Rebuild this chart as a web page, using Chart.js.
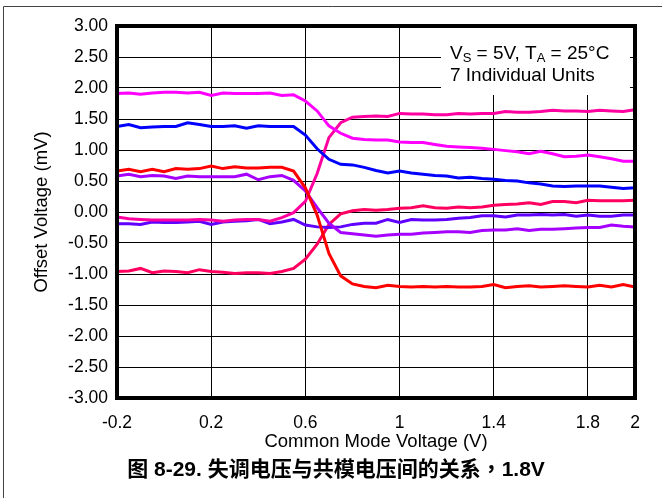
<!DOCTYPE html>
<html>
<head>
<meta charset="utf-8">
<script src="https://cdn.jsdelivr.net/npm/chart.js@4.4.1/dist/chart.umd.min.js"></script>
<style>
  html, body { margin: 0; padding: 0; background: #fff; }
  canvas { display: block; }
</style>
</head>
<body>
<canvas id="chart" width="662" height="498"></canvas>
<script>
// common mode voltage (V)
const voltage = [-0.2,-0.15,-0.1,-0.05,0,0.05,0.1,0.15,0.2,0.25,0.3,0.35,0.4,0.45,0.5,0.55,0.6,0.65,0.7,0.75,0.8,0.85,0.9,0.95,1.0,1.05,1.1,1.15,1.2,1.25,1.3,1.35,1.4,1.45,1.5,1.55,1.6,1.65,1.7,1.75,1.8,1.85,1.9,1.95,2.0];

// offset voltage (mV) for the 7 units
const unit1 = [1.91,1.92,1.90,1.92,1.93,1.93,1.92,1.93,1.88,1.92,1.91,1.91,1.91,1.92,1.88,1.89,1.79,1.63,1.39,1.27,1.19,1.17,1.16,1.16,1.13,1.12,1.12,1.09,1.06,1.05,1.04,1.03,1.01,0.99,0.97,0.94,0.98,0.94,0.89,0.90,0.92,0.89,0.86,0.82,0.82];
const unit2 = [1.38,1.41,1.36,1.37,1.38,1.38,1.44,1.41,1.38,1.38,1.39,1.35,1.39,1.38,1.38,1.38,1.24,1.02,0.85,0.77,0.76,0.72,0.67,0.63,0.66,0.63,0.61,0.59,0.58,0.55,0.56,0.54,0.53,0.51,0.50,0.47,0.45,0.42,0.41,0.42,0.42,0.42,0.40,0.38,0.39];
const unit3 = [0.66,0.69,0.65,0.69,0.65,0.70,0.69,0.70,0.74,0.70,0.73,0.71,0.71,0.72,0.72,0.66,0.39,-0.05,-0.67,-1.03,-1.16,-1.20,-1.22,-1.18,-1.20,-1.21,-1.20,-1.21,-1.20,-1.21,-1.21,-1.20,-1.17,-1.22,-1.20,-1.19,-1.21,-1.20,-1.19,-1.20,-1.21,-1.18,-1.21,-1.17,-1.21];
const unit4 = [0.58,0.61,0.57,0.59,0.58,0.54,0.58,0.57,0.57,0.57,0.57,0.61,0.52,0.57,0.59,0.51,0.34,0.07,-0.18,-0.33,-0.35,-0.37,-0.39,-0.37,-0.36,-0.36,-0.34,-0.33,-0.32,-0.32,-0.33,-0.30,-0.29,-0.29,-0.27,-0.30,-0.28,-0.28,-0.27,-0.26,-0.25,-0.25,-0.21,-0.23,-0.24];
const unit5 = [-0.08,-0.11,-0.12,-0.13,-0.13,-0.13,-0.13,-0.12,-0.13,-0.15,-0.13,-0.12,-0.12,-0.15,-0.09,-0.01,0.17,0.62,1.20,1.44,1.53,1.54,1.55,1.54,1.59,1.58,1.58,1.57,1.57,1.59,1.58,1.59,1.59,1.62,1.61,1.61,1.62,1.64,1.63,1.63,1.62,1.64,1.63,1.62,1.65];
const unit6 = [-0.19,-0.19,-0.20,-0.16,-0.17,-0.17,-0.16,-0.15,-0.20,-0.16,-0.15,-0.14,-0.12,-0.19,-0.16,-0.12,-0.21,-0.24,-0.25,-0.24,-0.20,-0.18,-0.18,-0.12,-0.17,-0.12,-0.13,-0.13,-0.12,-0.10,-0.09,-0.06,-0.06,-0.08,-0.05,-0.05,-0.04,-0.05,-0.04,-0.07,-0.05,-0.07,-0.07,-0.05,-0.05];
const unit7 = [-0.96,-0.95,-0.91,-0.98,-0.95,-0.96,-0.98,-0.93,-0.96,-0.97,-0.99,-0.98,-0.98,-0.99,-0.96,-0.91,-0.76,-0.52,-0.20,-0.03,0.02,0.04,0.03,0.04,0.06,0.07,0.10,0.07,0.06,0.08,0.07,0.08,0.11,0.12,0.13,0.15,0.12,0.17,0.17,0.15,0.19,0.18,0.18,0.18,0.19];

const units = [unit1, unit2, unit3, unit4, unit5, unit6, unit7];
const unitColors = ['#FF00FF','#0000FF','#FF0000','#A600FF','#FF00A0','#6000FF','#FF0060'];

const xTicks = [-0.2, 0.2, 0.6, 1, 1.4, 1.8, 2];
const yMin = -3, yMax = 3, yStep = 0.5;

const caption = '图 8-29. 失调电压与共模电压间的关系，1.8V';

const FONT = "'Liberation Sans', Arial, sans-serif";

// outer frame, plot border, condition box and figure caption
const decor = {
  id: 'decor',
  beforeDraw(chart) {
    const ctx = chart.ctx;
    ctx.save();
    ctx.strokeStyle = '#444';
    ctx.lineWidth = 1;
    ctx.beginPath();
    ctx.moveTo(3.5, 498);
    ctx.lineTo(3.5, 6.5);
    ctx.lineTo(662, 6.5);
    ctx.stroke();
    ctx.restore();
  },
  beforeDatasetsDraw(chart) {
    const ctx = chart.ctx;
    const a = chart.chartArea;
    ctx.save();
    ctx.fillStyle = '#fff';
    ctx.fillRect(441, a.top, 189, 69);
    ctx.fillStyle = '#000';
    ctx.textBaseline = 'alphabetic';
    let x = 450;
    const big = '19px ' + FONT, small = '13px ' + FONT;
    const parts = [['V', big, 0], ['S', small, 3.5], [' = 5V, T', big, 0], ['A', small, 3.5], [' = 25°C', big, 0]];
    parts.forEach(p => {
      ctx.font = p[1];
      ctx.fillText(p[0], x, 58.5 + p[2]);
      x += ctx.measureText(p[0]).width;
    });
    ctx.font = big;
    ctx.fillText('7 Individual Units', 450, 80.5);
    ctx.restore();
  },
  afterDatasetsDraw(chart) {
    const ctx = chart.ctx;
    const a = chart.chartArea;
    ctx.save();
    ctx.strokeStyle = '#000';
    ctx.lineWidth = 4;
    ctx.strokeRect(a.left, a.top, a.right - a.left, a.bottom - a.top);
    ctx.restore();
  },
  afterDraw(chart) {
    const ctx = chart.ctx;
    ctx.save();
    ctx.fillStyle = '#000';
    ctx.font = "bold 21px 'Liberation Sans', 'Noto Sans CJK TC', sans-serif";
    ctx.textAlign = 'center';
    ctx.textBaseline = 'middle';
    ctx.fillText(caption, 336, 470);
    ctx.restore();
  }
};

new Chart(document.getElementById('chart'), {
  type: 'line',
  data: {
    datasets: units.map((u, k) => ({
      label: 'Unit ' + (k + 1),
      data: voltage.map((v, i) => ({x: v, y: u[i]})),
      borderColor: unitColors[k],
      backgroundColor: unitColors[k],
      borderWidth: 3,
      pointRadius: 0,
      tension: 0,
      fill: false
    }))
  },
  options: {
    responsive: false,
    animation: false,
    layout: { padding: { left: 0, top: 26, right: 27, bottom: 0 } },
    plugins: {
      legend: { display: false },
      tooltip: { enabled: false }
    },
    scales: {
      x: {
        type: 'linear',
        min: -0.2,
        max: 2,
        afterBuildTicks: s => { s.ticks = xTicks.map(v => ({ value: v })); },
        afterFit: s => { s.height = 100; },
        ticks: {
          color: '#000',
          padding: 15,
          maxRotation: 0,
          font: { family: FONT, size: 17.5 },
          callback: v => String(v)
        },
        grid: { color: '#000', lineWidth: 1, drawTicks: false },
        border: { display: false },
        title: {
          display: true,
          text: 'Common Mode Voltage (V)',
          color: '#000',
          font: { family: FONT, size: 18.5 },
          padding: { top: 0, bottom: 45 }
        }
      },
      y: {
        min: yMin,
        max: yMax,
        afterFit: s => { s.width = 117; },
        ticks: {
          stepSize: yStep,
          color: '#000',
          padding: 9,
          font: { family: FONT, size: 17.5 },
          callback: v => Number(v).toFixed(2)
        },
        grid: { color: '#000', lineWidth: 1, drawTicks: false },
        border: { display: false },
        title: {
          display: true,
          text: 'Offset Voltage (mV)',
          color: '#000',
          font: { family: FONT, size: 18.5 },
          padding: { top: 31, bottom: 0 }
        }
      }
    }
  },
  plugins: [decor]
});
</script>
</body>
</html>
